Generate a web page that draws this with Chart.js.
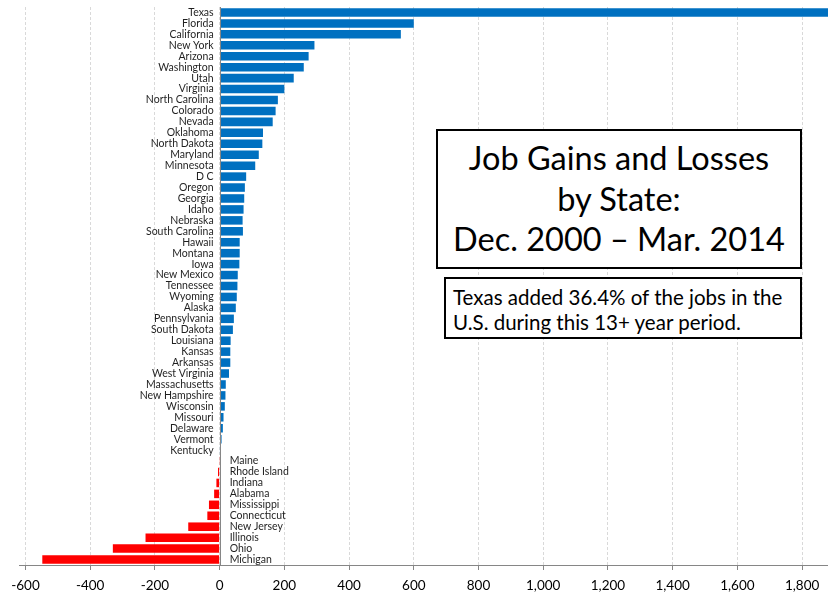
<!DOCTYPE html>
<html>
<head>
<meta charset="utf-8">
<title>Job Gains and Losses by State</title>
<script src="https://cdn.jsdelivr.net/npm/chart.js@4.4.1/dist/chart.umd.min.js"></script>
<style>
  body { margin: 0; background: #fff; }
  #wrap { position: relative; width: 828px; height: 598px; }
  .box {
    position: absolute;
    border: 2px solid #000;
    background: #fff;
    color: #000;
    font-family: Lato, "Open Sans", sans-serif;
    box-sizing: border-box;
  }
  #titleBox {
    left: 436px; top: 129px; width: 366px; height: 140px;
    font-size: 32.5px; line-height: 40.5px; text-align: center;
    padding-top: 7px; white-space: nowrap;
  }
  #noteBox {
    left: 444px; top: 277px; width: 358px; height: 62px;
    font-size: 20.5px; line-height: 25px; text-align: left;
    padding: 6px 0 0 7px; white-space: nowrap;
  }
</style>
</head>
<body>
<div id="wrap">
  <canvas id="myChart"></canvas>
  <div class="box" id="titleBox">Job Gains and Losses<br>by State:<br>Dec. 2000 – Mar. 2014</div>
  <div class="box" id="noteBox">Texas added 36.4% of the jobs in the<br>U.S. during this 13+ year period.</div>
</div>
<script>
const states = [
  "Texas", "Florida", "California", "New York", "Arizona", "Washington", "Utah",
  "Virginia", "North Carolina", "Colorado", "Nevada", "Oklahoma", "North Dakota",
  "Maryland", "Minnesota", "D C", "Oregon", "Georgia", "Idaho", "Nebraska",
  "South Carolina", "Hawaii", "Montana", "Iowa", "New Mexico", "Tennessee",
  "Wyoming", "Alaska", "Pennsylvania", "South Dakota", "Louisiana", "Kansas",
  "Arkansas", "West Virginia", "Massachusetts", "New Hampshire", "Wisconsin",
  "Missouri", "Delaware", "Vermont", "Kentucky", "Maine", "Rhode Island",
  "Indiana", "Alabama", "Mississippi", "Connecticut", "New Jersey", "Illinois",
  "Ohio", "Michigan"
];

// change in jobs, thousands
const jobChange = [
  1900, 600, 560, 293, 275, 260, 229,
  200, 180, 173, 164, 134, 132,
  121, 110, 82, 78, 76, 74, 71,
  72, 62, 62, 61, 56, 55,
  53, 50, 44, 41, 34, 33,
  33, 29, 19, 18, 16,
  12, 10, 6, 1, -1, -5,
  -10, -17, -33, -38, -97, -229,
  -330, -548
];

const xTicks = [-600, -400, -200, 0, 200, 400, 600, 800, 1000, 1200, 1400, 1600, 1800];

const posColor = "#0070C0";
const negColor = "#FF0000";

// state names sit beside the zero line: gains to its left, losses to its right
const stateLabels = {
  id: "stateLabels",
  afterDatasetsDraw(chart) {
    const { ctx, chartArea, scales } = chart;
    const x0 = scales.x.getPixelForValue(0);
    ctx.save();
    ctx.strokeStyle = "#868686";
    ctx.lineWidth = 1;
    ctx.beginPath();
    ctx.moveTo(Math.round(x0) + 0.5, chartArea.top);
    ctx.lineTo(Math.round(x0) + 0.5, chartArea.bottom);
    ctx.stroke();

    ctx.font = "10.5px Lato, sans-serif";
    ctx.fillStyle = "#1f1f1f";
    ctx.textBaseline = "middle";
    states.forEach((name, i) => {
      const y = scales.y.getPixelForValue(i);
      if (jobChange[i] < 0) {
        ctx.textAlign = "left";
        ctx.fillText(name, x0 + 10, y);
      } else {
        ctx.textAlign = "right";
        ctx.fillText(name, x0 - 6, y);
      }
    });
    ctx.restore();
  }
};

const ctx = document.getElementById("myChart");

new Chart(ctx, {
  type: "bar",
  data: {
    labels: states,
    datasets: [
      {
        data: jobChange,
        backgroundColor: jobChange.map((v) => (v < 0 ? negColor : posColor)),
        borderWidth: 0,
        barPercentage: 0.78,
        categoryPercentage: 1,
      },
    ],
  },
  plugins: [stateLabels],
  options: {
    indexAxis: "y",
    responsive: true,
    maintainAspectRatio: false,
    animation: false,
    layout: {
      padding: { top: 7, left: 19, right: 0, bottom: 0 },
    },
    scales: {
      x: {
        min: -620,
        max: 1880,
        afterBuildTicks: (scale) => {
          scale.ticks = xTicks.map((v) => ({ value: v }));
        },
        afterFit: (scale) => {
          scale.height = 33;
        },
        grid: {
          color: "#d9d9d9",
          tickColor: "#868686",
          tickLength: 5,
        },
        border: {
          display: true,
          color: "#868686",
          dash: [3, 2],
        },
        ticks: {
          padding: 8,
          color: "#000",
          font: { family: "Lato, sans-serif", size: 13.5 },
          maxRotation: 0,
          autoSkip: false,
          callback: (v) => v.toLocaleString("en-US"),
        },
      },
      y: {
        display: false,
      },
    },
    plugins: {
      legend: { display: false },
      tooltip: { enabled: false },
    },
  },
});
</script>
</body>
</html>
